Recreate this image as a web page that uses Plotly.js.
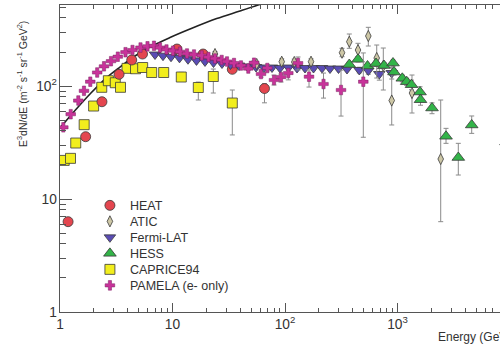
<!DOCTYPE html>
<html>
<head>
<meta charset="utf-8">
<script src="https://cdn.plot.ly/plotly-3.0.1.min.js"></script>
<style>html,body{margin:0;padding:0;background:#fff;}#chart{width:500px;height:349px;}</style>
</head>
<body>
<div id="chart"></div>
<script>
// ---- data (energy in GeV, E^3 dN/dE in m^-2 s^-1 sr^-1 GeV^2) ----
const heatE = [1.18, 1.69, 2.36, 3.35, 4.34, 5.41, 10.96, 18.7, 34.0, 65.7];
const heatY = [6.3, 35.6, 72.6, 126.9, 169.9, 191.9, 212.5, 191.9, 140.6, 95.0];
const heatErrP = [0, 0, 0, 0, 0, 0, 0, 0, 8, 10];
const heatErrM = [0, 0, 0, 0, 0, 0, 0, 0, 8, 24];

const aticE = [23.87, 56.03, 93.5, 120.9, 170.3, 321.2, 372.8, 445.6, 550.2, 653.4, 747.7, 888.2, 1345, 2421];
const aticY = [191.9, 156.6, 164.1, 163.1, 164.1, 197.1, 246.6, 208.2, 277.1, 176.9, 150.3, 74.4, 86.7, 22.6];
const aticErrP = [10, 8, 10, 10, 10, 18.5, 42, 30.6, 53.6, 53.7, 66.6, 59.4, 38.4, 52.6];
const aticErrM = [10, 8, 10, 10, 10, 15.4, 31, 26.5, 51.2, 59.2, 58.1, 29.2, 29, 16.3];

const fermiE = [6.99, 8.23, 9.70, 11.54, 13.73, 16.34, 19.45, 23.14, 27.54, 32.78, 39.00, 46.42, 55.24, 65.07, 76.63, 90.27, 107.4, 127.9, 150.6, 179.2, 213.3, 251.2, 298.9, 355.7, 457.5, 550.2, 688.9, 888.2];
const fermiY = [190.0, 185.5, 181.5, 177.5, 172.5, 168.5, 165.0, 161.4, 158.2, 155.0, 151.9, 148.8, 147.3, 145.8, 145.8, 144.3, 145.8, 144.3, 144.3, 144.3, 144.3, 142.8, 142.8, 141.4, 138.6, 137.2, 127.7, 130.3];
const fermiErr = [0, 0, 0, 0, 0, 0, 0, 0, 0, 0, 0, 0, 0, 0, 0, 0, 0, 0, 0, 0, 0, 0, 0, 0, 8, 10, 15, 15];

const hessE = [372.8, 445.6, 541.3, 644.1, 758.6, 912.0, 930.9, 1103, 1207, 1332, 1585, 1601, 2026, 2699, 3471, 4566, 9213];
const hessY = [155.0, 172.3, 150.3, 158.2, 151.9, 159.7, 133.0, 117.0, 109.2, 102.7, 88.5, 75.6, 63.9, 35.9, 23.3, 45.2, 32];
const hessErrP = [8, 9, 8, 9, 9, 10, 8, 8, 8, 10, 10, 8, 7, 6.3, 7.8, 9.1, 68];
const hessErrM = [8, 9, 8, 9, 9, 10, 8, 8, 8, 10, 10, 8, 7, 4.8, 7.0, 7.1, 22];

const capriceE = [1.09, 1.24, 1.38, 1.64, 1.99, 2.35, 2.69, 3.10, 3.45, 3.94, 4.69, 5.43, 6.53, 8.35, 11.97, 16.96, 23.05, 34.0];
const capriceY = [21.96, 22.9, 31.3, 45.5, 66.5, 97.4, 111.4, 106.9, 97.4, 143.4, 142.2, 145.8, 131.7, 131.7, 120.1, 97.0, 121.4, 70.7];
const capriceErrP = [0, 0, 0, 0, 0, 0, 0, 0, 0, 0, 0, 0, 0, 8, 12, 11.4, 20, 21.5];
const capriceErrM = [0, 0, 0, 0, 0, 0, 0, 0, 0, 0, 0, 0, 0, 8, 10, 21.8, 34.7, 33.8];

const pamelaE = [1.070, 1.245, 1.455, 1.634, 1.859, 2.141, 2.461, 2.840, 3.265, 3.821, 4.410, 5.195, 5.995, 6.848, 7.743, 8.845, 10.10, 11.66, 13.46, 15.53, 18.18, 20.89, 23.87, 27.37, 30.51, 35.22, 40.63, 47.19, 53.03, 61.19, 69.62, 79.85, 92.13, 106.98, 130.5, 163.5, 219.9, 314.7, 496.6];
const pamelaY = [43.1, 56.3, 74.4, 90.7, 109.2, 131.7, 149.4, 165.8, 181.7, 199.1, 208.2, 219.1, 224.5, 226.9, 219.1, 210.4, 205.3, 201.1, 193.9, 190.0, 186.2, 180.5, 175.1, 169.9, 164.8, 159.7, 151.9, 142.8, 160.8, 127.7, 144.3, 113.0, 120.1, 130.3, 159.7, 120.9, 104.2, 92.2, 109.2];
const pamelaErrP = [0,0,0,0,0,0,0,0,0,0,0,0,0,0,0,0,0,0,0,0,0,0,0,0,0,0, 5, 5, 6, 8, 8, 12, 7.6, 8, 21, 18, 26, 46, 87];
const pamelaErrM = [0,0,0,0,0,0,0,0,0,0,0,0,0,0,0,0,0,0,0,0,0,0,0,0,0,0, 5, 5, 6, 8, 8, 11, 11.7, 17, 21, 23, 26, 38, 74];

const modelE = [1, 1.359, 1.848, 2.512, 3.415, 4.642, 6.31, 9.50, 14.30, 24.72, 39.81, 57.54, 70];
const modelY = [42.5, 60.7, 85.0, 115.3, 147.3, 184.3, 221.4, 268.7, 319.5, 395.7, 461.0, 521.1, 560];

const names = ["HEAT", "ATIC", "Fermi-LAT", "HESS", "CAPRICE94", "PAMELA (e- only)"];
const xTitle = "Energy (GeV)";
const yTitle = "E<sup>3</sup>dN/dE (m<sup>-2</sup> s<sup>-1</sup> sr<sup>-1</sup> GeV<sup>2</sup>)";

// ---- styles ----
const FONT = "Liberation Sans, Arial, sans-serif";
const edge = {color: "#3a3a3a", width: 0.8};
const errStyle = (p, m) => ({type: "data", symmetric: false, array: p, arrayminus: m, color: "#8a8a8a", thickness: 1, width: 2.5});

const traces = [
  {x: modelE, y: modelY, mode: "lines", line: {color: "#222", width: 1.6, shape: "spline"}, showlegend: false, hoverinfo: "skip"},
  {x: capriceE, y: capriceY, name: names[4], legendrank: 5, mode: "markers", error_y: errStyle(capriceErrP, capriceErrM),
   marker: {symbol: "square", size: 10, color: "#f2ee1d", line: edge}},
  {x: heatE, y: heatY, name: names[0], legendrank: 1, mode: "markers", error_y: errStyle(heatErrP, heatErrM),
   marker: {symbol: "circle", size: 10, color: "#e4464f", line: edge}},
  {x: fermiE, y: fermiY, name: names[2], legendrank: 3, mode: "markers", error_y: errStyle(fermiErr, fermiErr),
   marker: {symbol: "triangle-down", size: 10, color: "#5a4cb5", line: edge}},
  {x: aticE, y: aticY, name: names[1], legendrank: 2, mode: "markers", error_y: errStyle(aticErrP, aticErrM),
   marker: {symbol: "diamond-tall", size: 8, color: "#cdc7a6", line: edge}},
  {x: hessE, y: hessY, name: names[3], legendrank: 4, mode: "markers", error_y: errStyle(hessErrP, hessErrM),
   marker: {symbol: "triangle-up", size: 11, color: "#33b449", line: edge}},
  {x: pamelaE, y: pamelaY, name: names[5], legendrank: 6, mode: "markers", error_y: errStyle(pamelaErrP, pamelaErrM),
   marker: {symbol: "cross", size: 8, color: "#c8339a", line: {color: "#7a2060", width: 0.5}}}
];

const axCommon = {
  type: "log", showgrid: false, zeroline: false,
  showline: true, linecolor: "#555", linewidth: 1,
  ticks: "inside", tickcolor: "#555", tickwidth: 1,
  dtick: 1, exponentformat: "power",
  tickfont: {family: FONT, size: 11, color: "#333"}
};

const layout = {
  width: 500, height: 349,
  margin: {l: 60, r: 0, t: 5, b: 37},
  paper_bgcolor: "#fff", plot_bgcolor: "#fff",
  font: {family: FONT, color: "#333"},
  xaxis: Object.assign({}, axCommon, {
    range: [0, 3.911], mirror: "ticks", ticklen: 9,
    minor: {ticks: "inside", ticklen: 4, tickcolor: "#555", dtick: "D1", showgrid: false}
  }),
  yaxis: Object.assign({}, axCommon, {
    range: [0, 2.717], mirror: false, ticklen: 12,
    minor: {ticks: "inside", ticklen: 6, tickcolor: "#555", dtick: "D1", showgrid: false}
  }),
  showlegend: true,
  legend: {
    x: 0.068, y: 0.395, xanchor: "left", yanchor: "top",
    bgcolor: "rgba(0,0,0,0)", borderwidth: 0,
    font: {family: FONT, size: 12.5, color: "#333"},
    tracegroupgap: 0
  },
  annotations: [
    {text: yTitle, xref: "paper", yref: "paper", x: -0.086, y: 0.743, textangle: -90,
     showarrow: false, xanchor: "center", yanchor: "middle",
     font: {family: FONT, size: 10.5, color: "#333"}},
    {text: xTitle, xref: "paper", yref: "paper", x: 0.8545, y: -0.0814,
     showarrow: false, xanchor: "left", yanchor: "middle",
     font: {family: FONT, size: 12, color: "#333"}}
  ]
};

Plotly.newPlot("chart", traces, layout, {displayModeBar: false, staticPlot: true}).then(function (gd) {
  // tighten legend row spacing to 16 px like the reference
  const items = gd.querySelectorAll(".legend .traces");
  let y0 = null;
  items.forEach(function (g, i) {
    const m = /translate\(\s*([-\d.]+)[ ,]+([-\d.]+)\s*\)/.exec(g.getAttribute("transform") || "");
    if (!m) return;
    if (y0 === null) y0 = parseFloat(m[2]);
    g.setAttribute("transform", "translate(" + m[1] + "," + (y0 + 16 * i) + ")");
  });
});
</script>
</body>
</html>
